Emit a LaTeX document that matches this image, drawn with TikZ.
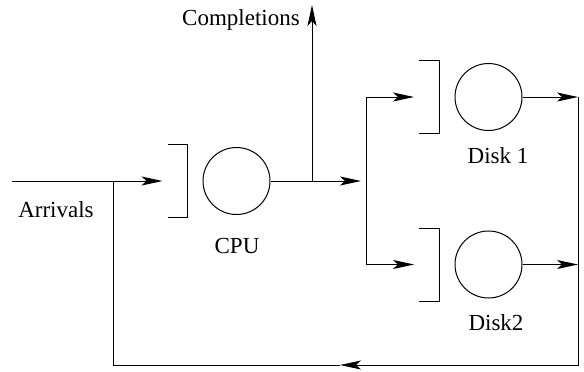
\documentclass[tikz,border=0pt]{standalone}
\usepackage{fontspec}
\setmainfont{Liberation Serif}
\usetikzlibrary{arrows.meta, positioning}

\begin{document}
\begin{tikzpicture}[
  x=0.5pt, y=-0.5pt,
  line width=0.5pt,
  >={Stealth[length=10.5pt, width=4.5pt, inset=2.5pt]},
  server/.style={circle, draw, minimum size=33.5pt, inner sep=0pt},
  queue/.style={rectangle, minimum width=9.5pt, minimum height=36pt, inner sep=0pt},
  lbl/.style={anchor=base, inner sep=0pt, font=\fontsize{11.5}{14}\selectfont},
  arrow/.style={->, shorten >=2.5pt}
]
\useasboundingbox (0,0) rectangle (584,371);

% Servers and their queues
\node[queue] (cpuq) at (177.5,181) {};
\node[server] (cpu) at (236.5,181) {};
\node[queue] (d1q) at (429,97) {};
\node[server] (disk1) at (488.5,97) {};
\node[queue] (d2q) at (429,264.5) {};
\node[server] (disk2) at (488.5,264.5) {};

% Labels
\node[lbl] (cpulbl) at (237,253) {CPU};
\node[lbl] (d1lbl) at (498,163) {Disk 1};
\node[lbl] (d2lbl) at (496,330) {Disk2};
\node[lbl] (arrlbl) at (56,217) {Arrivals};
\node[lbl] (compl) at (241,25) {Completions};

% Junction points
\coordinate (src) at (12,181);
\coordinate (join) at (113,181);
\coordinate (split) at (312,181);
\coordinate (out) at (312,5);
\coordinate (branch) at (366,181);
\coordinate (b1) at (366,97);
\coordinate (b2) at (366,264.5);
\coordinate (r1) at (578,97);
\coordinate (r2) at (578,264.5);
\coordinate (r3) at (578,365);
\coordinate (fb) at (340,365);
\coordinate (l3) at (113,365);

% Queue brackets
\foreach \q in {cpuq, d1q, d2q}
  \draw (\q.north west) -- (\q.north east) -- (\q.south east) -- (\q.south west);

% Main flow
\draw[arrow] (src) -- (cpuq.west);
\draw[arrow] (cpu.east) -- (branch);
\draw[->] (split) -- (out);
\draw (b1) -- (b2);
\draw[arrow] (b1) -- (d1q.west);
\draw[arrow] (b2) -- (d2q.west);
\draw[->] (disk1.east) -- (r1);
\draw[->] (disk2.east) -- (r2);

% Feedback loop
\draw[->] (r1) -- (r3) -- (fb);
\draw (fb) -- (l3) -- (join);

\end{tikzpicture}
\end{document}
